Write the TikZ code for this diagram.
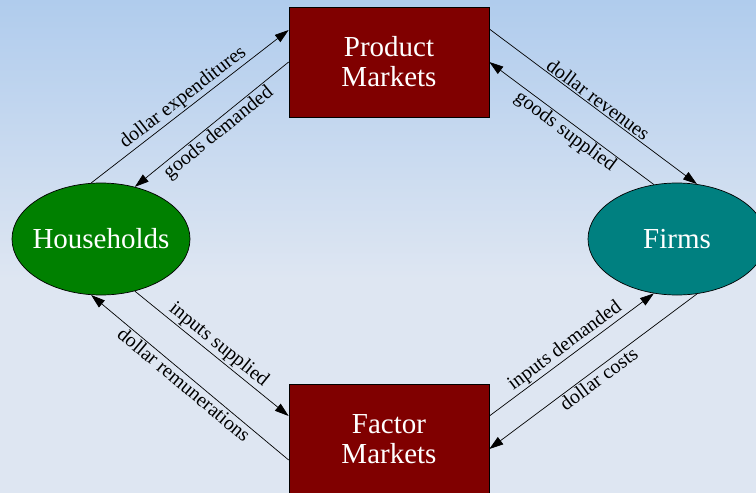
\documentclass[tikz,border=0pt]{standalone}
\usepackage{fontspec}
\setmainfont{Liberation Serif}
\usetikzlibrary{shapes.geometric,arrows.meta}
\definecolor{bgtop}{RGB}{176,204,237}
\definecolor{bgbot}{RGB}{222,230,242}
\definecolor{maroonbox}{RGB}{128,0,0}
\definecolor{hhgreen}{RGB}{0,128,0}
\definecolor{firmteal}{RGB}{0,128,128}
\begin{document}
\begin{tikzpicture}[x=1pt,y=-1pt,
  market/.style={rectangle,draw=black,fill=maroonbox,minimum width=200pt,minimum height=110pt,
    text=white,font=\fontsize{29}{30}\selectfont,align=center,inner sep=0pt,line width=0.7pt},
  agent/.style={ellipse,draw=black,minimum width=178pt,minimum height=112pt,
    text=white,font=\fontsize{29}{30}\selectfont,inner sep=0pt,line width=0.7pt},
  flow/.style={-{Triangle[length=14pt,width=9pt]},line width=0.7pt},
  lab/.style={sloped,midway,font=\fontsize{20}{21}\selectfont,inner sep=1.5pt}]
\useasboundingbox (0,0) rectangle (756,493);
\shade[top color=bgtop,bottom color=bgbot] (0,0) rectangle (756,280);
\fill[bgbot] (0,280) rectangle (756,493);
\node[market] (PM) at (389,62) {Product\\Markets};
\node[market] (FM) at (389,439) {Factor\\Markets};
\node[agent,fill=hhgreen] (HH) at (101,239) {\makebox[0pt]{Households}};
\node[agent,fill=firmteal] (FI) at (677,239) {\makebox[0pt]{Firms}};
\draw[flow] (HH.100) -- node[lab,above]{dollar expenditures} ([yshift=32pt]PM.west);
\draw[flow] (PM.west) -- node[lab,below]{goods demanded} (HH.57);
\draw[flow] ([yshift=33pt]PM.east) -- node[lab,above]{dollar revenues} (FI.70);
\draw[flow] (FI.113) -- node[lab,below]{goods supplied} (PM.east);
\draw[flow] (HH.-57) -- node[lab,above]{inputs supplied} ([yshift=23pt]FM.west);
\draw[flow] ([yshift=-21pt]FM.west) -- node[lab,below]{dollar remunerations} (HH.-100);
\draw[flow] ([yshift=23pt]FM.east) -- node[lab,above]{inputs demanded} (FI.-113);
\draw[flow] (FI.-70) -- node[lab,below]{dollar costs} ([yshift=-10pt]FM.east);
\end{tikzpicture}
\end{document}
